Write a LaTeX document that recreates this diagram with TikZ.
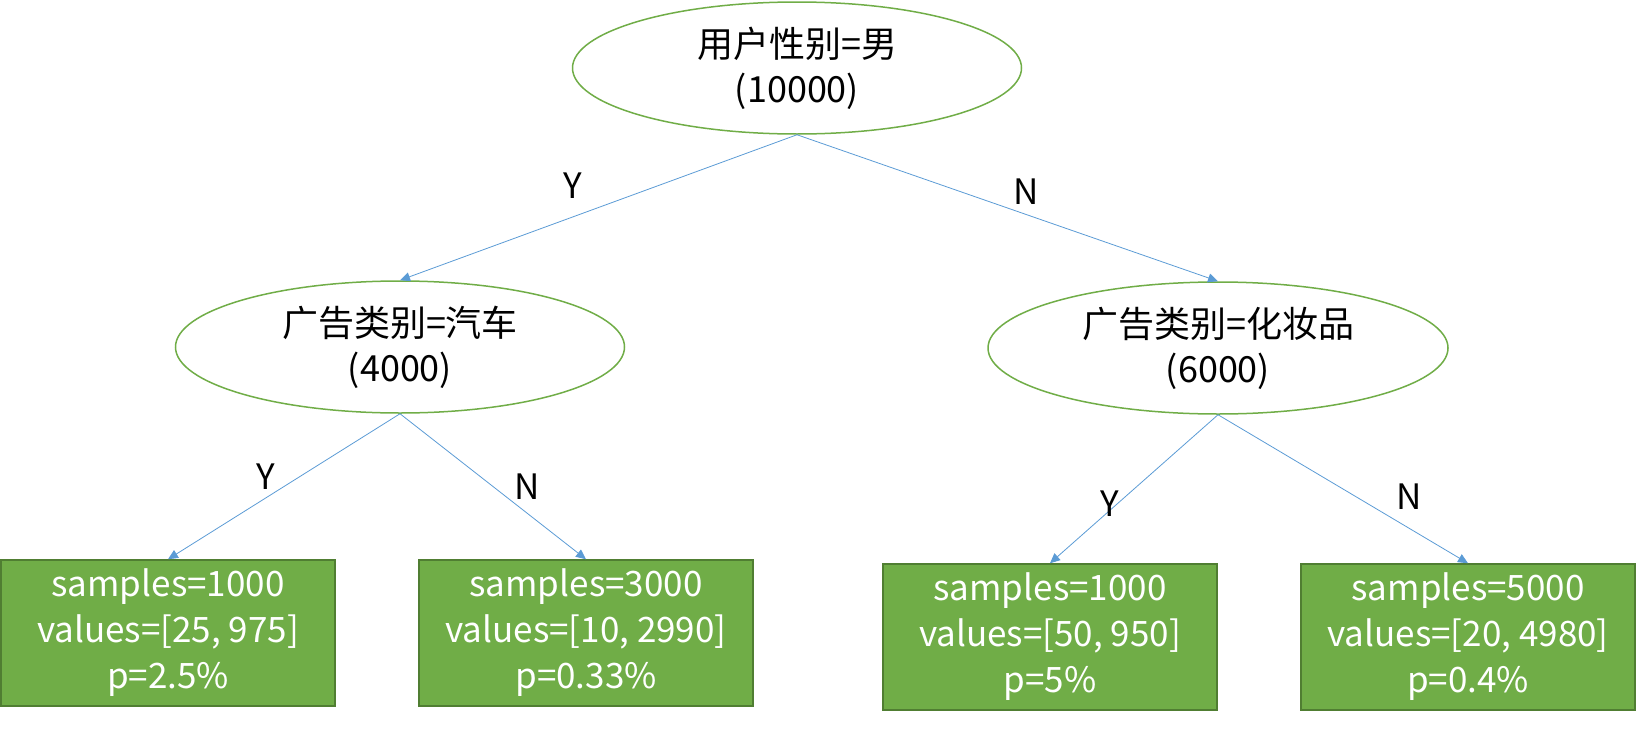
\documentclass[tikz,border=0pt]{standalone}
\usepackage{fontspec}
\setmainfont{Noto Sans CJK SC}
\usetikzlibrary{shapes.geometric}
\usetikzlibrary{arrows.meta}
\definecolor{leafgreen}{HTML}{70AD47}
\definecolor{leafedge}{HTML}{507E32}
\definecolor{linkblue}{HTML}{5B9BD5}
\tikzset{
  split/.style={ellipse, draw=leafgreen, line width=1.5pt, fill=white,
    minimum width=449pt, minimum height=132pt, inner sep=0pt, align=center,
    font=\fontsize{36}{45}\selectfont},
  leaf/.style={rectangle, draw=leafedge, line width=1.5pt, fill=leafgreen,
    text=white, minimum width=334pt, minimum height=146pt, inner sep=0pt,
    align=center, font=\fontsize{35}{46}\selectfont},
  link/.style={draw=linkblue, line width=0.8pt, -{Triangle[length=10pt,width=9pt]}},
  yn/.style={font=\fontsize{35}{40}\selectfont}
}

\begin{document}
\begin{tikzpicture}[x=1pt,y=-1pt]
\useasboundingbox (0,0) rectangle (1637,728);
\node (root) [split] at (797,68) {用户性别=男\\(10000)};
\node (L) [split] at (400,347) {广告类别=汽车\\(4000)};
\node (R) [split, minimum width=460pt] at (1218,348) {广告类别=化妆品\\(6000)};

\node (L1) [leaf] at (168,633) {samples=1000\\values=[25, 975]\\p=2.5\%};
\node (L2) [leaf] at (586,633) {samples=3000\\values=[10, 2990]\\p=0.33\%};
\node (R1) [leaf] at (1050,637) {samples=1000\\values=[50, 950]\\p=5\%};
\node (R2) [leaf] at (1468,637) {samples=5000\\values=[20, 4980]\\p=0.4\%};

\draw[link] (root.south) -- (L.north);
\draw[link] (root.south) -- (R.north);
\draw[link] (L.south) -- (L1.north);
\draw[link] (L.south) -- (L2.north);
\draw[link] (R.south) -- (R1.north);
\draw[link] (R.south) -- (R2.north);

\node (yroot) [yn] at (573,186) {Y};
\node (nroot) [yn] at (1026,192) {N};
\node (yL) [yn] at (266,477) {Y};
\node (nL) [yn] at (527,487) {N};
\node (yR) [yn] at (1110,504) {Y};
\node (nR) [yn] at (1409,497) {N};
\end{tikzpicture}
\end{document}
